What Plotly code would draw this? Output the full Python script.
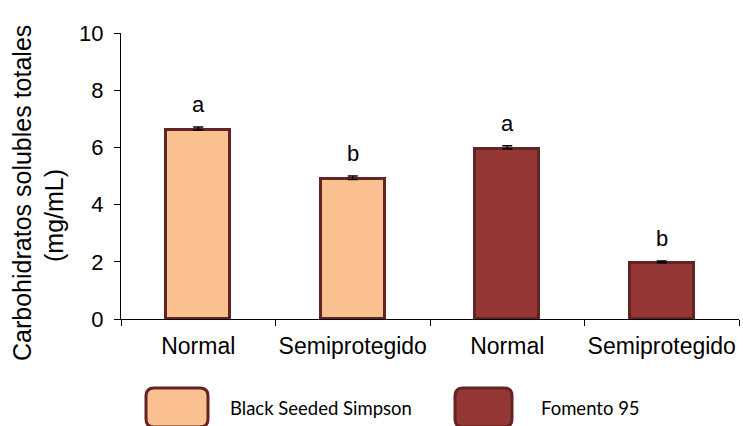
import plotly.graph_objects as go

# Data
categories = ["Normal", "Semiprotegido", "Normal", "Semiprotegido"]
varieties = ["Black Seeded Simpson", "Fomento 95"]
bss_values = [6.61, 4.88]
bss_errors = [0.10, 0.12]
fom_values = [5.94, 1.97]
fom_errors = [0.12, 0.06]
bss_letters = ["a", "b"]
fom_letters = ["a", "b"]
y_title_lines = ["Carbohidratos solubles totales", "(mg/mL)"]

light_fill = "#FAC090"
dark_fill = "#953735"
outline = "#632523"
font_family = "Arial, Liberation Sans, sans-serif"

x_pos = [0.5, 1.5, 2.5, 3.5]
bar_w = 0.414

fig = go.Figure()
fig.add_trace(go.Bar(
    x=x_pos[:2], y=bss_values, width=bar_w, name=varieties[0],
    marker=dict(color=light_fill, line=dict(color=outline, width=3)),
    error_y=dict(type="data", array=bss_errors, arrayminus=[0, 0], symmetric=False,
                 color="black", thickness=1.5, width=5),
))
fig.add_trace(go.Bar(
    x=x_pos[2:], y=fom_values, width=bar_w, name=varieties[1],
    marker=dict(color=dark_fill, line=dict(color=outline, width=3)),
    error_y=dict(type="data", array=fom_errors, arrayminus=[0, 0], symmetric=False,
                 color="black", thickness=1.5, width=5),
))

# Significance letters above the error bars
for xs, vals, errs, letters in [(x_pos[:2], bss_values, bss_errors, bss_letters),
                                (x_pos[2:], fom_values, fom_errors, fom_letters)]:
    for x, v, e, t in zip(xs, vals, errs, letters):
        fig.add_annotation(x=x, y=v + e, text=t, showarrow=False,
                           yanchor="bottom", yshift=8,
                           font=dict(family=font_family, size=22, color="black"))

# Plot-area geometry in pixels, used to place the legend swatches and title
L, T, PW, PH = 121, 33, 618, 286
def px(xp):
    return (xp - L) / PW
def py(yp):
    return (T + PH - yp) / PH

def swatch_path(x0, x1, ytop, ybot, r=8):
    return (f"M{px(x0 + r)},{py(ytop)} L{px(x1 - r)},{py(ytop)} "
            f"Q{px(x1)},{py(ytop)} {px(x1)},{py(ytop + r)} "
            f"L{px(x1)},{py(ybot - r)} Q{px(x1)},{py(ybot)} {px(x1 - r)},{py(ybot)} "
            f"L{px(x0 + r)},{py(ybot)} Q{px(x0)},{py(ybot)} {px(x0)},{py(ybot - r)} "
            f"L{px(x0)},{py(ytop + r)} Q{px(x0)},{py(ytop)} {px(x0 + r)},{py(ytop)} Z")

swatches = [(146, 208, light_fill, 228, varieties[0]),
            (455, 512, dark_fill, 539, varieties[1])]
for x0, x1, col, tx, label in swatches:
    fig.add_shape(type="path", xref="paper", yref="paper",
                  path=swatch_path(x0, x1, 388, 427),
                  fillcolor=col, line=dict(color=outline, width=3), layer="above")
    fig.add_annotation(xref="paper", yref="paper", x=px(tx), y=py(408),
                       xanchor="left", yanchor="middle", text=label, showarrow=False,
                       font=dict(family="Lato, Carlito, sans-serif", size=18.5, color="black"))

# Rotated y-axis title, one annotation per line
for text, cx, cy in [(y_title_lines[0], 22, 193), (y_title_lines[1], 54, 216)]:
    fig.add_annotation(xref="paper", yref="paper", x=px(cx), y=py(cy),
                       xanchor="center", yanchor="middle", textangle=-90,
                       text=text, showarrow=False,
                       font=dict(family=font_family, size=25, color="black"))

fig.update_layout(
    width=743, height=426,
    margin=dict(l=L, r=743 - L - PW, t=T, b=426 - T - PH),
    paper_bgcolor="white", plot_bgcolor="white",
    showlegend=False, bargap=0,
    font=dict(family=font_family, size=20, color="black"),
    xaxis=dict(range=[0, 4], tickvals=x_pos, ticktext=categories, ticks="",
               showline=True, linecolor="black", linewidth=1, showgrid=False,
               zeroline=False, tickfont=dict(size=23), ticklabelstandoff=6,
               minor=dict(tickvals=[0, 1, 2, 3, 4], ticks="outside", ticklen=6,
                          tickcolor="black", tickwidth=1, showgrid=False)),
    yaxis=dict(range=[0, 10], dtick=2, ticks="outside", ticklen=6, tickcolor="black",
               showline=True, linecolor="black", linewidth=1, showgrid=False,
               zeroline=False, tickfont=dict(size=22), ticklabelstandoff=6),
)

fig.write_html("out.html")
